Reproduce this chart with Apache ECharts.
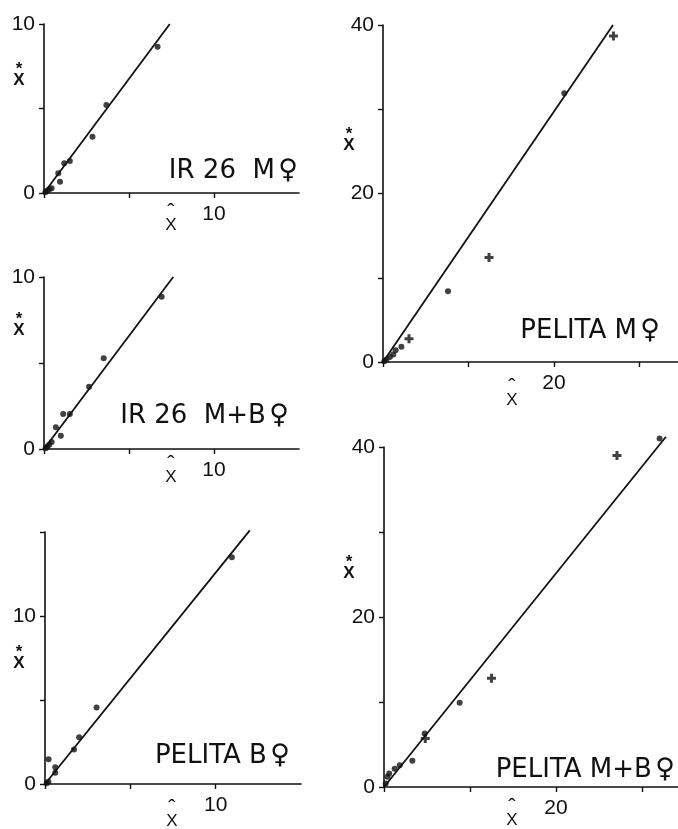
<!DOCTYPE html>
<html>
<head>
<meta charset="utf-8">
<script src="https://cdn.jsdelivr.net/npm/echarts@6/dist/echarts.min.js"></script>
<style>
html,body{margin:0;padding:0;background:#fff;}
#c{width:678px;height:829px;}
</style>
</head>
<body>
<div id="c"></div>
<script>
// ---- data ----
const panelTitles = ['IR 26  M', 'IR 26  M+B', 'PELITA B', 'PELITA M', 'PELITA M+B'];
const femaleSign = '\u2640';

const ir26M_x = [6.68, 3.67, 2.85, 1.52, 1.19, 0.84, 0.94, 0.45, 0.30, 0.16, 0.08];
const ir26M_y = [8.66, 5.20, 3.33, 1.89, 1.76, 1.17, 0.67, 0.28, 0.20, 0.14, 0.05];
const ir26M_fit = [[0, 0], [7.4, 10]];

const ir26MB_x = [6.92, 3.51, 2.65, 1.52, 1.13, 0.70, 0.99, 0.45, 0.30, 0.20, 0.10];
const ir26MB_y = [8.85, 5.27, 3.62, 2.03, 2.03, 1.26, 0.77, 0.40, 0.25, 0.15, 0.05];
const ir26MB_fit = [[0, 0], [7.6, 10]];

const pelB_x = [10.95, 3.02, 2.00, 1.70, 0.60, 0.60, 0.21, 0.20, 0.10];
const pelB_y = [13.50, 4.56, 2.78, 2.06, 0.99, 0.67, 1.47, 0.14, 0.05];
const pelB_fit = [[0, 0], [12.0, 15.1]];

const pelM_x = [21.2, 7.6, 2.15, 1.48, 1.2, 0.8, 0.4, 0.15];
const pelM_y = [31.9, 8.4, 1.80, 1.39, 0.9, 0.6, 0.3, 0.10];
const pelM_px = [26.95, 12.4, 3.04];
const pelM_py = [38.7, 12.4, 2.77];
const pelM_fit = [[0, 0], [26.9, 40]];

const pelMB_x = [32.06, 8.8, 4.73, 3.3, 1.83, 1.24, 0.6, 0.4, 0.2];
const pelMB_y = [41.0, 9.9, 6.3, 3.1, 2.55, 2.16, 1.6, 1.2, 0.4];
const pelMB_px = [27.1, 12.5, 4.8];
const pelMB_py = [39.0, 12.8, 5.7];
const pelMB_fit = [[0, 0], [32.8, 41.2]];

// axis ranges and which tick labels are printed
const xMax = [15, 15, 15, 34.5, 34.2];
const yMax = [10, 10, 15, 40, 40];
const xInterval = [5, 5, 5, 10, 10];
const yInterval = [5, 5, 5, 10, 10];
const xLabelsShown = [[10], [10], [10], [20], [20]];
const yLabelsShown = [[0, 10], [0, 10], [0, 10], [0, 20, 40], [0, 20, 40]];

// ---- layout ----
const grids = [
  {left: 44, top: 24, width: 255, height: 169},
  {left: 44, top: 277, width: 255, height: 172},
  {left: 45, top: 532, width: 256, height: 252},
  {left: 383, top: 25, width: 295, height: 337},
  {left: 384, top: 447, width: 294, height: 340}
];
const ink = '#111';
const FONT = "'Liberation Sans', Arial, sans-serif";
const TFONT = "'DejaVu Sans', sans-serif";

const zip = (a, b) => a.map((v, i) => [v, b[i]]);
const dots = [zip(ir26M_x, ir26M_y), zip(ir26MB_x, ir26MB_y), zip(pelB_x, pelB_y), zip(pelM_x, pelM_y), zip(pelMB_x, pelMB_y)];
const pluses = [[], [], [], zip(pelM_px, pelM_py), zip(pelMB_px, pelMB_py)];
const fits = [ir26M_fit, ir26MB_fit, pelB_fit, pelM_fit, pelMB_fit];

const xAxes = [], yAxes = [], series = [];
for (let i = 0; i < 5; i++) {
  const common = {
    type: 'value', gridIndex: i, min: 0, splitLine: {show: false},
    axisLine: {show: true, onZero: false, lineStyle: {color: ink, width: 1.6}},
    axisTick: {show: true, inside: false, length: 5, lineStyle: {color: ink, width: 1.4}}
  };
  const xs = xLabelsShown[i], ys = yLabelsShown[i];
  xAxes.push(Object.assign({}, common, {
    max: xMax[i], interval: xInterval[i],
    axisLabel: {margin: 11, color: ink, fontFamily: FONT, fontSize: 21,
      formatter: v => xs.indexOf(v) >= 0 ? String(v) : '', showMaxLabel: false}
  }));
  yAxes.push(Object.assign({}, common, {
    max: yMax[i], interval: yInterval[i],
    axisLabel: {margin: 9, color: ink, fontFamily: FONT, fontSize: 21,
      formatter: v => ys.indexOf(v) >= 0 ? String(v) : ''}
  }));
  series.push({
    type: 'line', xAxisIndex: i, yAxisIndex: i, data: fits[i], symbol: 'none',
    lineStyle: {color: ink, width: 1.8}, silent: true, z: 2, clip: false
  });
  series.push({
    type: 'scatter', xAxisIndex: i, yAxisIndex: i, data: dots[i], symbol: 'circle',
    symbolSize: 6, itemStyle: {color: ink}, z: 3, clip: false
  });
  if (pluses[i].length) {
    series.push({
      type: 'scatter', xAxisIndex: i, yAxisIndex: i, data: pluses[i],
      symbol: 'path://M3,0h3v3h3v3h-3v3h-3v-3h-3v-3h3z', symbolSize: 9,
      itemStyle: {color: ink}, z: 3, clip: false
    });
  }
}

// axis-name glyphs and panel titles
const titlePos = [[298, 171], [289, 416], [290, 756], [660, 331], [675, 770]];
const yNamePos = [[19, 75], [19, 325], [19, 658], [349, 140], [349, 568]];
const xNamePos = [[171, 220], [171, 472], [172, 816], [512, 395], [512, 815]];
const graphic = [];
for (let i = 0; i < 5; i++) {
  graphic.push({type: 'text', x: titlePos[i][0], y: titlePos[i][1],
    style: {text: '{t|' + panelTitles[i] + '} {s|' + femaleSign + '}', fill: ink, align: 'right', verticalAlign: 'middle',
      rich: {t: {font: "26px " + TFONT, fill: ink}, s: {font: "27px " + TFONT, fill: ink}}}});
  graphic.push({type: 'text', x: yNamePos[i][0], y: yNamePos[i][1],
    style: {text: '*\nX', fill: ink, font: "bold 17px " + FONT, lineHeight: 11, align: 'center', verticalAlign: 'middle'}});
  graphic.push({type: 'text', x: xNamePos[i][0], y: xNamePos[i][1],
    style: {text: '{h|\u02C6}\n{x|X}', fill: ink, align: 'center', verticalAlign: 'middle',
      rich: {h: {font: "22px " + FONT, fill: ink, lineHeight: 10, align: 'center'},
             x: {font: "17px " + FONT, fill: ink, lineHeight: 14, align: 'center'}}}});
}

const chart = echarts.init(document.getElementById('c'), null, {renderer: 'canvas'});
chart.setOption({
  animation: false,
  backgroundColor: '#fff',
  grid: grids,
  xAxis: xAxes,
  yAxis: yAxes,
  series: series,
  graphic: graphic
});
</script>
</body>
</html>
